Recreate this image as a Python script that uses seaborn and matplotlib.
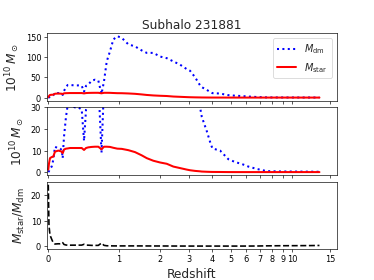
import numpy as np
import pandas as pd
import matplotlib
matplotlib.use("Agg")
import matplotlib.pyplot as plt
import seaborn as sns

# ---- data ----
redshift = [0.0, 0.0069, 0.0169, 0.034, 0.0504, 0.068, 0.103, 0.122, 0.141, 0.152,
            0.167, 0.190, 0.210, 0.238, 0.300, 0.343, 0.389, 0.421, 0.449, 0.482,
            0.532, 0.583, 0.635, 0.687, 0.729, 0.776, 0.834, 0.895, 0.971, 1.058,
            1.196, 1.345, 1.505, 1.632, 1.808, 1.999, 2.203, 2.418, 2.651, 2.900,
            3.028, 3.231, 3.444, 3.520, 3.747, 3.904, 4.016, 4.411, 4.588, 4.870,
            5.271, 5.697, 6.146, 6.762, 7.563, 8.760, 10.31, 12.11, 13.36]
m_dm = [0.05, 0.5, 1.5, 2.6, 5.7, 11.8, 11.0, 11.0, 10.3, 6.5,
        16.4, 25.6, 31.0, 31.0, 30.0, 30.0, 29.0, 14.5, 29.0, 32.0,
        42.0, 44.0, 42.0, 9.0, 40.0, 89.0, 114.0, 143.0, 151.0, 147.0,
        131.0, 126.0, 116.0, 110.0, 110.0, 101.0, 97.0, 89.0, 81.0, 70.0,
        66.0, 50.0, 30.0, 25.6, 19.0, 14.0, 11.0, 10.0, 8.4, 6.0,
        4.7, 3.8, 2.6, 1.5, 0.5, 0.35, 0.3, 0.25, 0.2]
m_star = [1.2, 4.0, 6.5, 7.0, 7.2, 9.5, 10.0, 9.8, 9.5, 8.8,
          10.5, 10.9, 11.0, 11.2, 11.2, 11.2, 11.2, 10.3, 11.2, 11.5,
          11.7, 11.8, 11.8, 10.6, 11.8, 11.8, 11.7, 11.3, 10.9, 10.8,
          10.2, 9.3, 7.8, 6.5, 5.3, 4.5, 3.9, 2.6, 1.9, 1.2,
          0.9, 0.6, 0.4, 0.3, 0.2, 0.15, 0.12, 0.1, 0.08, 0.06,
          0.05, 0.05, 0.05, 0.05, 0.05, 0.05, 0.05, 0.05, 0.05]
tick_z = [0, 1, 2, 3, 4, 5, 6, 7, 8, 9, 10, 15]
tick_labels = ["0", "1", "2", "3", "4", "5", "6", "7", "8", "9", "10", "15"]
title = "Subhalo 231881"

df = pd.DataFrame({"z": redshift, "dm": m_dm, "star": m_star})
df["x"] = np.log1p(df["z"])
df["ratio"] = df["star"] / df["dm"]

sns.set_style("ticks", {"axes.edgecolor": "black", "xtick.color": "black",
                        "ytick.color": "black"})
plt.rcParams["font.family"] = ["DejaVu Sans"]

fig = plt.figure(figsize=(6.4, 4.8), dpi=58.44)
axes = fig.subplots(3, 1, sharex=True)
fig.subplots_adjust(left=0.125, right=0.9, top=0.88, bottom=0.11, hspace=0.1)

ax1, ax2, ax3 = axes
for ax in (ax1, ax2):
    sns.lineplot(data=df, x="x", y="dm", ax=ax, color="blue", linestyle=":",
                 linewidth=2.5, label=r"$M_{\rm dm}$", legend=False)
    sns.lineplot(data=df, x="x", y="star", ax=ax, color="red", linestyle="-",
                 linewidth=2.5, label=r"$M_{\rm star}$", legend=False)
    ax.set_ylabel(r"$10^{10}\,M_\odot$", fontsize=15)
ax2.set_ylim(-1.25, 30)
ax1.legend(loc="upper right", fontsize=12)
ax1.set_title(title, fontsize=15)

sns.lineplot(data=df, x="x", y="ratio", ax=ax3, color="black", linestyle="--",
             linewidth=2, legend=False)
ax3.set_ylabel(r"$M_{\rm star}/M_{\rm dm}$", fontsize=15)
ax3.set_xlabel("Redshift", fontsize=15)
ax3.set_xticks(np.log1p(tick_z))
ax3.set_xticklabels(tick_labels)
ax3.set_xlim(-0.015, np.log(17))
for ax in (ax1, ax2):
    ax.set_xlabel("")
for ax in axes:
    ax.tick_params(labelsize=10)

fig.savefig("out.png", dpi=58.44)
